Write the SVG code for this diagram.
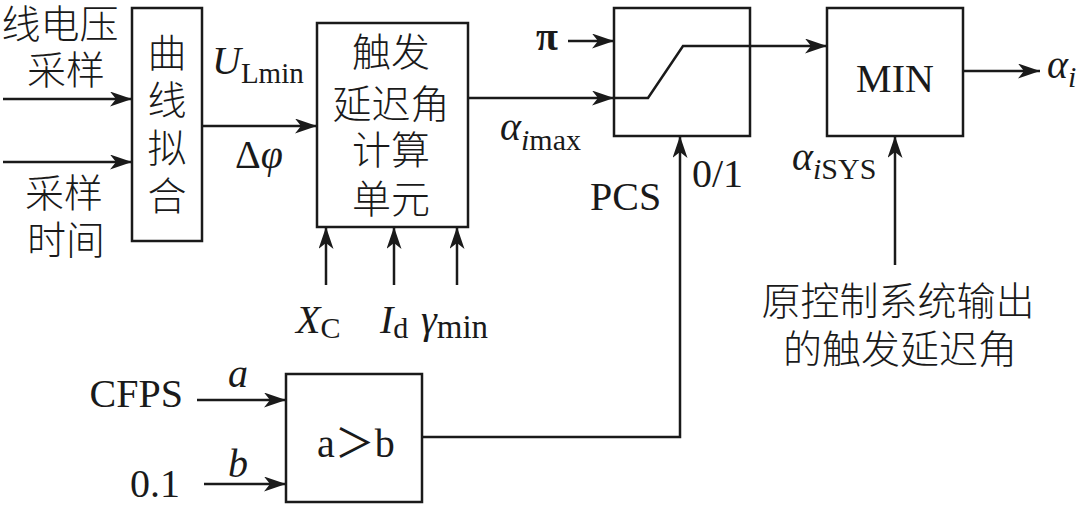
<svg xmlns="http://www.w3.org/2000/svg" width="1080" height="510" viewBox="0 0 1080 510">
<style>
.box{fill:#fff;stroke:#1a1a1a;stroke-width:2.5}
.ln{fill:none;stroke:#1a1a1a;stroke-width:2.5}
.cn{font-family:"Noto Sans CJK SC","Noto Sans CJK JP",sans-serif;font-size:39px;font-weight:300;fill:#1a1a1a;text-anchor:middle}
.lt{font-family:"Liberation Serif","Noto Sans CJK SC",serif;font-size:40px;fill:#1a1a1a}
.it{font-style:italic}
</style>
<defs>
<marker id="ah" markerUnits="userSpaceOnUse" markerWidth="24" markerHeight="16" refX="22" refY="7.5" orient="auto">
<path d="M0,0 L22,7.5 L0,15 L6,7.5 Z" fill="#1a1a1a"/>
</marker>
</defs>
<g id="inputs-left">
<text class="cn" x="60" y="38">线电压</text>
<text class="cn" x="66" y="84">采样</text>
<text class="cn" x="64" y="207">采样</text>
<text class="cn" x="66" y="254">时间</text>
</g>
<g id="curve-fit">
<rect class="box" x="132" y="8" width="70" height="233"/>
<text class="cn" x="167" y="67">曲</text>
<text class="cn" x="167" y="114">线</text>
<text class="cn" x="167" y="162">拟</text>
<text class="cn" x="167" y="210">合</text>
</g>
<g id="labels-mid">
<text class="lt" x="212" y="74" font-size="34"><tspan class="it">U</tspan><tspan font-size="29" dy="9">Lmin</tspan></text>
<text class="lt" x="235" y="168" font-size="32">Δ<tspan class="it">φ</tspan></text>
<text class="lt" x="500" y="140"><tspan class="it">α</tspan><tspan font-size="30" dy="10"><tspan class="it">i</tspan>max</tspan></text>
</g>
<g id="angle-calc">
<rect class="box" x="317" y="23" width="151" height="204"/>
<text class="cn" x="391" y="66">触发</text>
<text class="cn" x="391" y="118">延迟角</text>
<text class="cn" x="391" y="164">计算</text>
<text class="cn" x="391" y="213">单元</text>
</g>
<g id="angle-inputs">
<text class="lt" x="296" y="333" font-size="38"><tspan class="it">X</tspan><tspan font-size="30" dy="5">C</tspan></text>
<text class="lt" x="380" y="333" font-size="38"><tspan class="it">I</tspan><tspan font-size="30" dy="5">d</tspan></text>
<text class="lt" x="421" y="333" font-size="38"><tspan class="it">γ</tspan><tspan font-size="33" dy="5">min</tspan></text>
</g>
<g id="switch">
<rect class="box" x="614" y="8" width="136" height="128"/>
<text class="lt" x="536" y="50" font-size="38" font-weight="bold">π</text>
<text class="lt" x="692" y="187">0/1</text>
<text class="lt" x="590" y="210">PCS</text>
</g>
<g id="min">
<rect class="box" x="827" y="8" width="136" height="128"/>
<text class="lt" x="895" y="92" text-anchor="middle">MIN</text>
<text class="lt" x="792" y="170"><tspan class="it">α</tspan><tspan font-size="30" dy="9"><tspan class="it">i</tspan>SYS</tspan></text>
<text class="lt" x="1047" y="78"><tspan class="it">α</tspan><tspan class="it" font-size="30" dy="9">i</tspan></text>
</g>
<g id="original-output">
<text class="cn" x="898" y="315">原控制系统输出</text>
<text class="cn" x="900" y="363">的触发延迟角</text>
</g>
<g id="compare">
<rect class="box" x="286" y="374" width="136" height="128"/>
<text class="lt" x="356" y="457" text-anchor="middle">a＞b</text>
<text class="lt" x="183" y="407" text-anchor="end">CFPS</text>
<text class="lt" x="180" y="497" text-anchor="end">0.1</text>
<text class="lt it" x="228" y="387" font-size="36">a</text>
<text class="lt it" x="228" y="477" font-size="36">b</text>
</g>
<g id="connectors">
<line class="ln" x1="3" y1="99" x2="132" y2="99" marker-end="url(#ah)"/>
<line class="ln" x1="3" y1="162" x2="132" y2="162" marker-end="url(#ah)"/>
<line class="ln" x1="202" y1="126" x2="317" y2="126" marker-end="url(#ah)"/>
<line class="ln" x1="468" y1="98" x2="614" y2="98" marker-end="url(#ah)"/>
<line class="ln" x1="568" y1="41" x2="614" y2="41" marker-end="url(#ah)"/>
<polyline class="ln" points="614,98 648,98 683,46 827,46" marker-end="url(#ah)"/>
<line class="ln" x1="963" y1="71" x2="1040" y2="71" marker-end="url(#ah)"/>
<polyline class="ln" points="422,437 680,437 680,136" marker-end="url(#ah)"/>
<line class="ln" x1="895" y1="265" x2="895" y2="136" marker-end="url(#ah)"/>
<line class="ln" x1="326" y1="285" x2="326" y2="227" marker-end="url(#ah)"/>
<line class="ln" x1="394" y1="285" x2="394" y2="227" marker-end="url(#ah)"/>
<line class="ln" x1="457" y1="285" x2="457" y2="227" marker-end="url(#ah)"/>
<line class="ln" x1="197" y1="400" x2="286" y2="400" marker-end="url(#ah)"/>
<line class="ln" x1="204" y1="484" x2="286" y2="484" marker-end="url(#ah)"/>
</g>
</svg>
